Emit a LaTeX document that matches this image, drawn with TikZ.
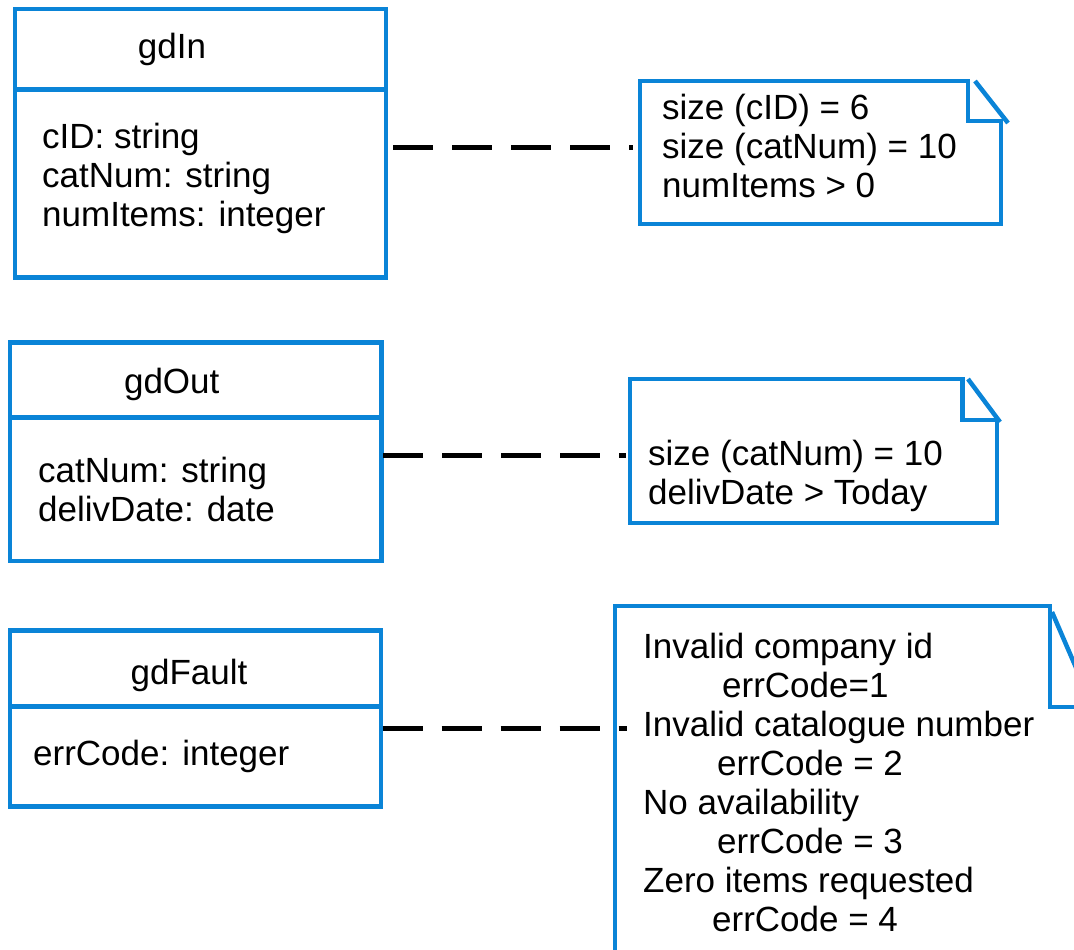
\documentclass[tikz,border=0pt]{standalone}
\usepackage{fontspec}
\setmainfont{Liberation Sans}
\usetikzlibrary{positioning}
\definecolor{umlblue}{RGB}{10,132,215}

\begin{document}
\begin{tikzpicture}[
  x=1pt, y=-1pt,
  font=\fontsize{35}{39}\selectfont,
  classpart/.style={
    rectangle,
    line width=4.5pt,
    draw=umlblue,
    fill=white,
    inner sep=0pt,
    outer sep=0pt
  },
  notebox/.style={
    rectangle,
    inner sep=0pt,
    outer sep=0pt
  },
  notepen/.style={
    line width=4.5pt,
    draw=umlblue
  },
  attrs/.style={
    anchor=base west,
    align=left,
    inner sep=0pt
  },
  dashlink/.style={
    line width=5pt,
    dash pattern=on 40pt off 19pt
  }]
  \useasboundingbox (0,0) rectangle (1074,950);
  \clip (0,0) rectangle (1074,950);

  % classes (attrs are placed by the baseline of their last line)
  \node[classpart, anchor=north west, minimum width=371, minimum height=80.5,
    label={[xshift=-28.5]center:gdIn}] (inhead) at (15,9) {};
  \node[classpart, below=0pt of inhead, minimum width=371, minimum height=188] (inbody) {};
  \node[attrs] (inattrs) at (42,226) {cID: string\\catNum: string\\numItems: integer};

  \node[classpart, anchor=north west, minimum width=371.5, minimum height=75,
    label={[xshift=-24, yshift=-4]center:gdOut}] (outhead) at (10,342.5) {};
  \node[classpart, below=0pt of outhead, minimum width=371.5, minimum height=143.5] (outbody) {};
  \node[attrs] (outattrs) at (38,521) {catNum: string\\delivDate: date};

  \node[classpart, anchor=north west, minimum width=371, minimum height=76,
    label={[xshift=-6.5, yshift=-7]center:gdFault}] (faulthead) at (10,630.5) {};
  \node[classpart, below=0pt of faulthead, minimum width=371, minimum height=100] (faultbody) {};
  \node[attrs] (faultattrs) at (33,765) {errCode: integer};

  % notes
  \node[notebox, anchor=north west, minimum width=361, minimum height=143] (innote) at (640,81) {};
  \draw[notepen] (innote.north west) -- ([xshift=-33]innote.north east)
    -- ([xshift=-33, yshift=-40]innote.north east) -- ([yshift=-40]innote.north east)
    -- (innote.south east) -- (innote.south west) -- cycle;
  \draw[notepen] ([xshift=-26]innote.north east) -- ([xshift=7, yshift=-42]innote.north east);
  \node[attrs] (innotetext) at (662,197) {size (cID) = 6\\size (catNum) = 10\\numItems > 0};

  \node[notebox, anchor=north west, minimum width=367, minimum height=144] (outnote) at (630,379) {};
  \draw[notepen] (outnote.north west) -- ([xshift=-34.5]outnote.north east)
    -- ([xshift=-34.5, yshift=-41]outnote.north east) -- ([yshift=-41]outnote.north east)
    -- (outnote.south east) -- (outnote.south west) -- cycle;
  \draw[notepen] ([xshift=-29]outnote.north east) -- ([xshift=3, yshift=-43]outnote.north east);
  \node[attrs] (outnotetext) at (648,504) {size (catNum) = 10\\delivDate > Today};

  \node[notebox, anchor=north west, minimum width=478, minimum height=400] (faultnote) at (615,606) {};
  \draw[notepen] (faultnote.north west) -- ([xshift=-43]faultnote.north east)
    -- ([xshift=-43, yshift=-101]faultnote.north east) -- ([yshift=-101]faultnote.north east)
    -- (faultnote.south east) -- (faultnote.south west) -- cycle;
  \draw[notepen] ([xshift=-41, yshift=-6]faultnote.north east) -- ([yshift=-101]faultnote.north east);
  \node[attrs] (faultnotetext) at (643,931) {Invalid company id\\
    \hspace*{79pt}errCode=1\\
    Invalid catalogue number\\
    \hspace*{74pt}errCode = 2\\
    No availability\\
    \hspace*{74pt}errCode = 3\\
    Zero items requested\\
    \hspace*{69pt}errCode = 4};

  % links
  \coordinate (inlink) at (0,147);
  \coordinate (outlink) at (0,455);
  \coordinate (faultlink) at (0,728);
  \draw[dashlink, shorten <=7pt, shorten >=7pt] (inbody.east |- inlink) -- (innote.west |- inlink);
  \draw[dashlink, shorten <=1.5pt, shorten >=4pt] (outbody.east |- outlink) -- (outnote.west |- outlink);
  \draw[dashlink, shorten <=1.5pt, shorten >=-12pt] (faultbody.east |- faultlink) -- (faultnote.west |- faultlink);
\end{tikzpicture}
\end{document}
